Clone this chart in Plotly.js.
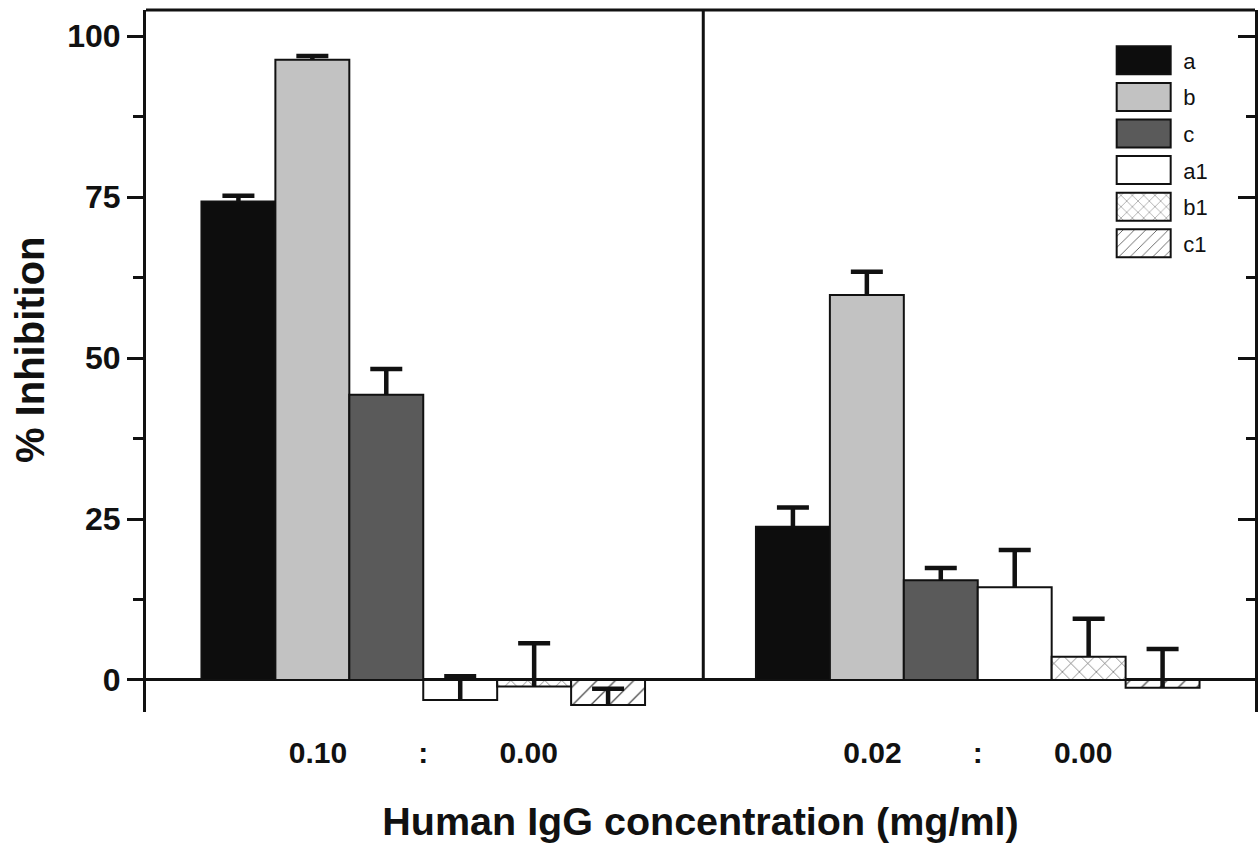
<!DOCTYPE html>
<html>
<head>
<meta charset="utf-8">
<script src="https://cdn.plot.ly/plotly-3.0.1.min.js"></script>
<style>html,body{margin:0;padding:0;background:#fff;}#chart{width:1259px;height:843px;}</style>
</head>
<body>
<div id="chart"></div>
<script>
// ---- data ----
var groups = [0, 1];                       // two concentration groups
var seriesNames = ['a', 'b', 'c', 'a1', 'b1', 'c1'];
var valA  = [74.3, 23.8];
var valB  = [96.3, 59.8];
var valC  = [44.3, 15.5];
var valA1 = [-3.1, 14.4];
var valB1 = [-1.0, 3.6];
var valC1 = [-3.9, -1.2];
var errA  = [0.9, 3.0];
var errB  = [0.6, 3.6];
var errC  = [4.0, 1.9];
var errA1 = [3.7, 5.8];
var errB1 = [6.7, 5.9];
var errC1 = [2.55, 6.0];
var tickLabels = ['0.10', ':', '0.00', '0.02', ':', '0.00'];
var yTickVals = [0, 25, 50, 75, 100];
var yMinorVals = [12.5, 37.5, 62.5, 87.5];

var values = [valA, valB, valC, valA1, valB1, valC1];
var errors = [errA, errB, errC, errA1, errB1, errC1];

// ---- styles ----
var fills = ['#0d0d0d', '#c2c2c2', '#5a5a5a', '#ffffff', '#ffffff', '#ffffff'];
var patterns = [null, null, null, null,
  {shape: 'x', fgcolor: '#4a4a4a', bgcolor: '#ffffff', size: 12, solidity: 0.1},
  {shape: '/', fgcolor: '#4a4a4a', bgcolor: '#ffffff', size: 13, solidity: 0.1}];

var traces = seriesNames.map(function (name, i) {
  var marker = {color: fills[i], line: {color: '#111', width: 2}};
  if (patterns[i]) marker.pattern = patterns[i];
  return {
    type: 'bar', name: name, x: groups, y: values[i],
    legendgroup: name,
    marker: marker,
    error_y: {type: 'data', symmetric: false, array: errors[i],
              arrayminus: errors[i].map(function () { return 0; }),
              color: '#111', thickness: 4.5, width: 16},
    hoverinfo: 'skip'
  };
});
// invisible helper trace on the right-hand axis
traces.push({type: 'scatter', x: [0], y: [0], yaxis: 'y2', mode: 'markers',
             marker: {opacity: 0}, showlegend: false, hoverinfo: 'skip'});

var offs = [-0.19, 0, 0.19];
var tickPos = [];
groups.forEach(function (g) { offs.forEach(function (o) { tickPos.push(g + o); }); });

var yRange = [-4.97, 104.04];
var fontFam = '"Liberation Sans", Arial, Helvetica, sans-serif';

var layout = {
  width: 1259, height: 843,
  margin: {l: 146, r: 4, t: 10, b: 131},
  paper_bgcolor: '#ffffff', plot_bgcolor: '#ffffff',
  barmode: 'group', bargap: 0.2, bargroupgap: 0,
  showlegend: true,
  legend: {x: 0.864, y: 0.958, xanchor: 'left', yanchor: 'top',
           font: {family: fontFam, size: 22, color: '#111'},
           itemwidth: 69, traceorder: 'grouped', tracegroupgap: 5,
           bgcolor: 'rgba(0,0,0,0)', borderwidth: 0},
  xaxis: {range: [-0.5, 1.5], showline: false, showgrid: false, zeroline: false,
          tickmode: 'array', tickvals: tickPos, ticktext: tickLabels,
          ticks: '', ticklabelstandoff: 20,
          tickfont: {family: fontFam, size: 30, color: '#111', weight: 'bold'},
          title: {text: 'Human IgG concentration (mg/ml)', standoff: 40,
                  font: {family: fontFam, size: 39.5, color: '#111', weight: 'bold'}}},
  yaxis: {range: yRange, showline: true, linecolor: '#111', linewidth: 3,
          showgrid: false, zeroline: true, zerolinecolor: '#111', zerolinewidth: 3,
          tickmode: 'array', tickvals: yTickVals, ticks: 'outside', ticklen: 16,
          tickwidth: 3, tickcolor: '#111',
          minor: {tickmode: 'array', tickvals: yMinorVals, ticks: 'outside', ticklen: 10, tickwidth: 3, tickcolor: '#111'},
          tickfont: {family: fontFam, size: 32, color: '#111', weight: 'bold'}},
  yaxis2: {range: yRange, overlaying: 'y', side: 'right', showline: true,
           linecolor: '#111', linewidth: 3, showgrid: false, zeroline: false,
           tickmode: 'array', tickvals: yTickVals, ticks: 'inside', ticklen: 17,
           tickwidth: 3, tickcolor: '#111', showticklabels: false,
           minor: {tickmode: 'array', tickvals: yMinorVals, ticks: 'inside', ticklen: 9, tickwidth: 3, tickcolor: '#111'}},
  annotations: [
    {text: '% Inhibition', xref: 'paper', yref: 'paper', x: -0.1046, y: 0.517,
     xanchor: 'center', yanchor: 'middle', textangle: -90, showarrow: false,
     font: {family: fontFam, size: 40, color: '#111', weight: 'bold'}}
  ],
  shapes: [
    {type: 'line', xref: 'paper', yref: 'paper', x0: 0, x1: 1, y0: 1, y1: 1,
     line: {color: '#111', width: 3}},
    {type: 'line', xref: 'x', yref: 'y', x0: 0.505, x1: 0.505, y0: 0, y1: yRange[1],
     line: {color: '#111', width: 3}}
  ]
};

var gd = document.getElementById('chart');
function tweak() {
  // wide legend swatches like the reference
  gd.querySelectorAll('.legend .legendpoints path').forEach(function (p) {
    p.setAttribute('d', 'M27,14H-27V-14H27Z');
  });
  // one-sided error bars: drop the lower cross-bar
  gd.querySelectorAll('g.errorbar path').forEach(function (p) {
    var d = p.getAttribute('d') || '';
    var nd = d.replace(/m-?[\d.]+,0h[\d.]+\s*$/, '');
    if (nd !== d) p.setAttribute('d', nd);
  });
}
Plotly.newPlot(gd, traces, layout, {staticPlot: true}).then(function () {
  tweak();
  gd.on('plotly_afterplot', tweak);
  setTimeout(tweak, 100);
  setTimeout(tweak, 600);
});
</script>
</body>
</html>
